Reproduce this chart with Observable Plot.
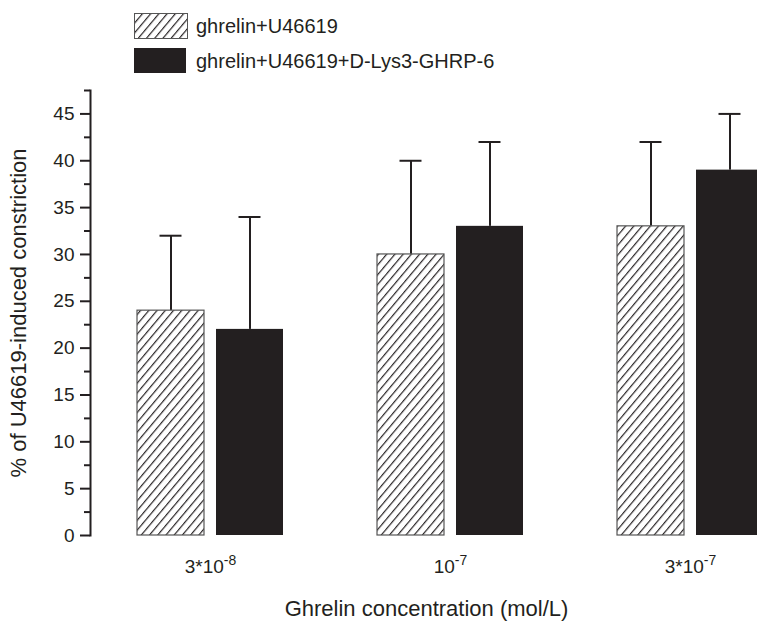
<!DOCTYPE html>
<html><head><meta charset="utf-8">
<script src="https://cdn.jsdelivr.net/npm/d3@7"></script>
<script src="https://cdn.jsdelivr.net/npm/@observablehq/plot@0.6"></script>
<style>
body{margin:0;background:#fff;overflow:hidden;font-family:"Liberation Sans",Arial,sans-serif;color:#231f20}
#legend{position:relative;height:85px;width:757px}
.item{position:absolute;left:134px;display:flex;align-items:center}
.item svg{display:block}
.item span{margin-left:8px;font-size:20px}
</style></head><body>
<div id="legend">
  <div class="item" style="top:13px"><svg width="54" height="26"><defs><pattern id="hatchL" patternUnits="userSpaceOnUse" width="6.3" height="6.3" patternTransform="rotate(40)"><rect width="6.3" height="6.3" fill="#fff"/><line x1="0.6" y1="0" x2="0.6" y2="6.3" stroke="#2a2627" stroke-width="1.2"/></pattern></defs><rect x="0.5" y="0.5" width="53" height="25" fill="url(#hatchL)" stroke="#555" stroke-width="1"/></svg><span id="l1"></span></div>
  <div class="item" style="top:48px"><svg width="54" height="26"><rect x="0" y="0" width="52" height="25" fill="#231f20"/></svg><span id="l2"></span></div>
</div>
<div id="chart"></div>
<script>
const groups = ["3*10^-8", "10^-7", "3*10^-7"];
const seriesNames = ["ghrelin+U46619", "ghrelin+U46619+D-Lys3-GHRP-6"];
const meanU = [24, 30, 33];
const errU = [8, 10, 9];
const meanD = [22, 33, 39];
const errD = [12, 9, 6];
const yTicks = [0, 5, 10, 15, 20, 25, 30, 35, 40, 45];
const yMinor = [2.5, 7.5, 12.5, 17.5, 22.5, 27.5, 32.5, 37.5, 42.5, 47.5];
const xLabel = "Ghrelin concentration (mol/L)";
const yLabel = "% of U46619-induced constriction";

document.getElementById("l1").textContent = seriesNames[0];
document.getElementById("l2").textContent = seriesNames[1];

const rowsU = groups.map((g, i) => ({group: g, series: seriesNames[0], mean: meanU[i], err: errU[i]}));
const rowsD = groups.map((g, i) => ({group: g, series: seriesNames[1], mean: meanD[i], err: errD[i]}));
const rows = rowsU.concat(rowsD);
const ink = "#231f20";

const chart = Plot.plot({
  width: 757,
  height: 542,
  marginLeft: 90,
  marginRight: 0,
  marginTop: 5,
  marginBottom: 92,
  style: {fontFamily: "'Liberation Sans', Arial, sans-serif", fontSize: "19px", color: ink, background: "#fff"},
  fx: {domain: groups, range: [90, 810], padding: 0, round: false},
  x: {domain: seriesNames, paddingInner: 0.152, paddingOuter: 0.595, round: false, axis: null},
  y: {domain: [0, 47.5]},
  marks: [
    Plot.ruleX(rows, {fx: "group", x: "series", y1: "mean", y2: d => d.mean + d.err, stroke: ink, strokeWidth: 2}),
    Plot.tickY(rows, {fx: "group", x: "series", y: d => d.mean + d.err, stroke: ink, strokeWidth: 2, insetLeft: 22.5, insetRight: 22.5}),
    Plot.barY(rowsU, {fx: "group", x: "series", y: "mean", fill: "url(#hatch)", stroke: "#555", strokeWidth: 1.2}),
    Plot.barY(rowsD, {fx: "group", x: "series", y: "mean", fill: ink}),
    Plot.axisY(yMinor, {tickSize: 6, tickFormat: () => "", label: null, stroke: ink, strokeWidth: 2}),
    Plot.axisY(yTicks, {tickSize: 10, tickPadding: 6, fontSize: 19, label: yLabel, labelAnchor: "center", labelOffset: 80, labelArrow: "none", stroke: ink, strokeWidth: 2}),
    Plot.frame({anchor: "left", facetAnchor: "left", stroke: ink, strokeWidth: 2}),
    Plot.axisFx({anchor: "bottom", tickSize: 0, tickPadding: 24, fontSize: 19, label: xLabel, labelAnchor: "center", labelOffset: 80, labelArrow: "none"})
  ]
});
document.getElementById("chart").appendChild(chart);

const ns = "http://www.w3.org/2000/svg";
const svg = chart.tagName.toLowerCase() === "svg" ? chart : chart.querySelector("svg");
const defs = document.createElementNS(ns, "defs");
defs.innerHTML = '<pattern id="hatch" patternUnits="userSpaceOnUse" width="6.3" height="6.3" patternTransform="rotate(40)"><rect width="6.3" height="6.3" fill="#fff"/><line x1="0.6" y1="0" x2="0.6" y2="6.3" stroke="#2a2627" stroke-width="1.2"/></pattern>';
svg.insertBefore(defs, svg.firstChild);

svg.querySelectorAll('[aria-label="fx-axis tick label"] text').forEach(t => {
  const s = t.textContent;
  const parts = s.split("^");
  t.textContent = "";
  const a = document.createElementNS(ns, "tspan");
  a.textContent = parts[0];
  t.appendChild(a);
  if (parts[1]) {
    const b = document.createElementNS(ns, "tspan");
    b.setAttribute("dy", "-0.6em");
    b.style.fontSize = "14px";
    b.textContent = parts[1];
    t.appendChild(b);
  }
});
svg.querySelectorAll('[aria-label="y-axis label"] text, [aria-label="fx-axis label"] text').forEach(t => { t.style.fontSize = "22px"; });
// centre the x-axis title under the visible plotting area, as in the reference
svg.querySelectorAll('[aria-label="fx-axis label"]').forEach(g => {
  const prev = g.getAttribute("transform") || "";
  g.setAttribute("transform", prev + " translate(-24,0)");
});
</script>
</body></html>
